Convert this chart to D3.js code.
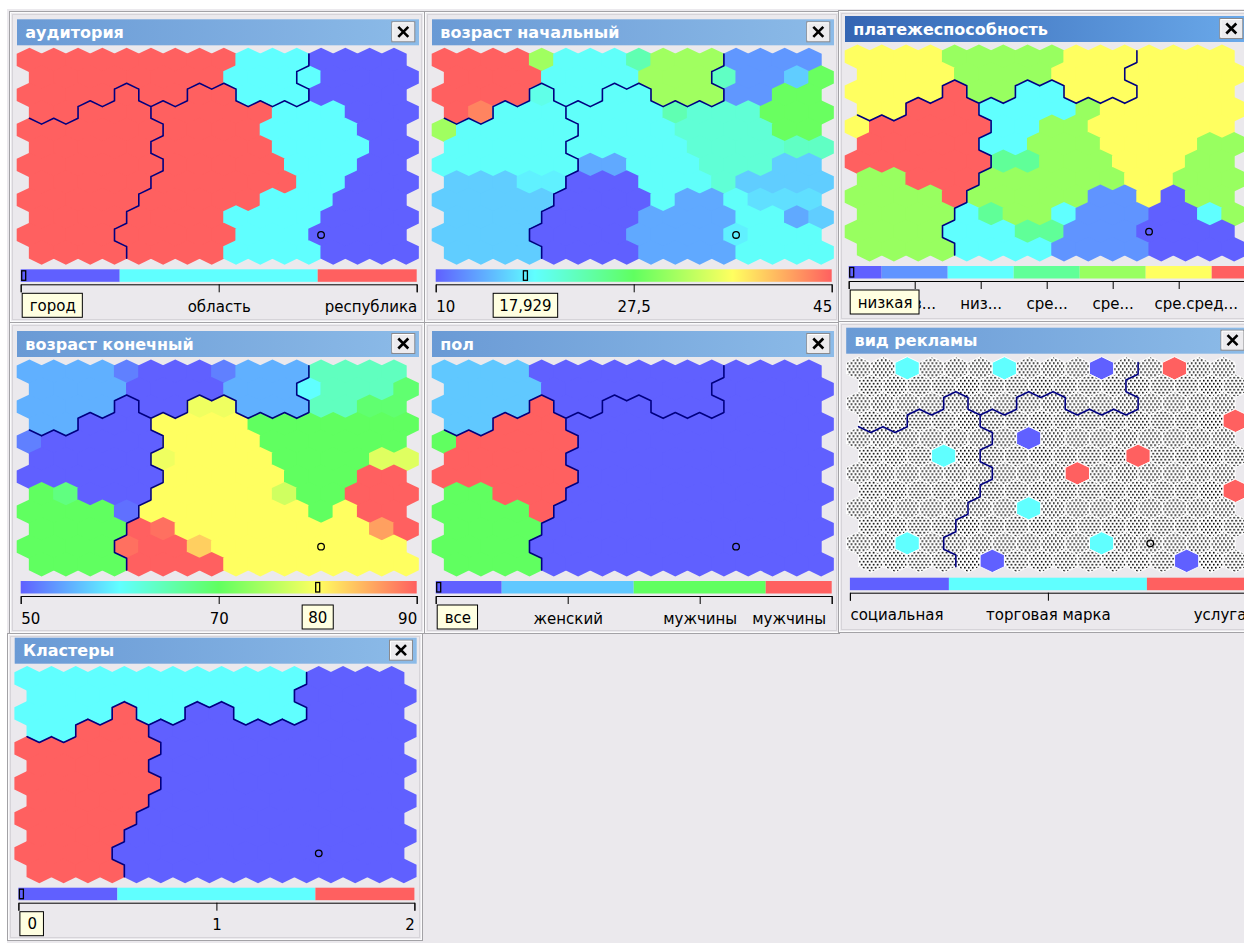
<!DOCTYPE html>
<html>
<head>
<meta charset="utf-8">
<script src="https://cdn.jsdelivr.net/npm/d3@7"></script>
<style>
body { margin: 0; background: #fff; }
svg { display: block; font-family: "DejaVu Sans", Verdana, sans-serif; }
</style>
</head>
<body>
<svg id="chart" width="1244" height="943"></svg>
<script>
// SOM grid 16 x 12, odd rows shifted right
var ROWS = 12, COLS = 16;
var markCell = {r: 10, c: 12};

// cluster id per cell (0,1,2)
var clusters = [
    "1111111111110000",
    "1111111111100000",
    "1111211001110000",
    "1122200000000000",
    "2222220000000000",
    "2222200000000000",
    "2222220000000000",
    "2222200000000000",
    "2222200000000000",
    "2222000000000000",
    "2222000000000000",
    "2222000000000000"
];
var clusterNames = ["0", "1", "2"];

var auditoria = [
    "2222222221110000",
    "2222222211110000",
    "2222222221110000",
    "2222222222111000",
    "2222222222111100",
    "2222222222111100",
    "2222222222211100",
    "2222222222211000",
    "2222222222111000",
    "2222222211110000",
    "2222222221110000",
    "2222222211110000"
];
var auditoriaNames = ["город", "область", "республика"];

var platezh = [
    "5555444445555555",
    "5555444455555555",
    "5555644225555555",
    "5566622224555555",
    "5666662244555555",
    "6666622444555544",
    "6666663344455544",
    "4466644444455444",
    "4444644444115044",
    "4444234421110024",
    "4444222331110000",
    "4444222211110000"
];
var platezhNames = ["низкая", "низ...", "низ...", "сре...", "сре...", "сре.сред...", "высокая"];

var pol = [
    "1111000000000000",
    "1111000000000000",
    "1111300000000000",
    "1133300000000000",
    "2333330000000000",
    "3333300000000000",
    "3333330000000000",
    "2233300000000000",
    "2222300000000000",
    "2222000000000000",
    "2222000000000000",
    "2222000000000000"
];
var polNames = ["все", "женский", "мужчины", "мужчины"];

// "." = no value
var reklama = [
    "..1...1...0..2..",
    "................",
    "................",
    "...............2",
    ".......0........",
    "...1.......2....",
    ".........2......",
    "...............2",
    ".......1........",
    "................",
    "..1.......1.....",
    ".....0.......0.."
];
var reklamaNames = ["социальная", "торговая марка", "услуга"];

var vozrastNach = [
    [45, 45, 45, 45, 31, 19, 19, 19, 23, 31, 31, 31, 13, 13, 13, 13],
    [45, 45, 45, 45, 19, 19, 19, 19, 31, 31, 31, 22, 13, 13, 16, 28],
    [45, 45, 45, 45, 20, 19, 19, 19, 19, 31, 31, 31, 13, 13, 28, 28],
    [45, 43, 19, 19, 19, 19, 19, 19, 19, 23, 21, 21, 21, 28, 28, 28],
    [31, 19, 19, 19, 19, 19, 19, 19, 19, 19, 21, 21, 21, 21, 28, 28],
    [19, 19, 19, 19, 19, 19, 19, 19, 19, 19, 21, 21, 21, 21, 22, 22],
    [19, 19, 19, 19, 19, 19, 14, 14, 19, 19, 19, 21, 21, 21, 16, 16],
    [16, 16, 16, 18, 18, 10, 10, 10, 19, 19, 19, 21, 16, 16, 16, 16],
    [16, 16, 16, 16, 16, 10, 10, 10, 10, 19, 14, 14, 19, 17, 17, 17],
    [16, 16, 16, 16, 10, 10, 10, 10, 14, 14, 14, 14, 19, 19, 14, 16],
    [16, 16, 16, 16, 10, 10, 10, 10, 14, 14, 14, 14, 17.929, 19, 19, 19],
    [16, 16, 16, 16, 10, 10, 10, 10, 14, 14, 14, 14, 19, 19, 19, 19]
];
var vozrastNachTicks = [10, 27.5, 45];

var vozrastKon = [
    [55, 55, 55, 55, 52, 50, 50, 50, 52, 55, 55, 55, 64, 64, 64, 64],
    [55, 55, 55, 55, 50, 50, 50, 50, 55, 55, 55, 60, 64, 64, 64, 69],
    [55, 55, 55, 55, 50, 50, 50, 79, 79, 55, 55, 55, 64, 64, 69, 69],
    [55, 55, 50, 50, 50, 80, 80, 80, 80, 70, 70, 70, 70, 70, 70, 70],
    [52, 50, 50, 50, 50, 50, 80, 80, 80, 80, 70, 70, 70, 70, 70, 70],
    [50, 50, 50, 50, 50, 79, 80, 80, 80, 80, 70, 70, 70, 70, 78, 78],
    [50, 50, 50, 50, 50, 50, 80, 80, 80, 80, 80, 70, 70, 70, 90, 90],
    [70, 68, 50, 50, 50, 80, 80, 80, 80, 80, 77, 70, 70, 90, 90, 90],
    [70, 70, 70, 70, 51, 80, 80, 80, 80, 80, 80, 80, 70, 80, 90, 90],
    [70, 70, 70, 70, 90, 89, 80, 80, 80, 80, 80, 80, 80, 80, 86, 90],
    [70, 70, 70, 70, 89, 90, 90, 83, 80, 80, 80, 80, 80, 80, 80, 80],
    [70, 70, 70, 70, 90, 90, 90, 90, 80, 80, 80, 80, 80, 80, 80, 80]
];
var vozrastKonTicks = [50, 70, 90];

var colors3 = ["#6060ff", "#60ffff", "#ff6060"];
var colorsPol = ["#6060ff", "#60c8ff", "#60ff60", "#ff6060"];
var colorsPlatezh = ["#6060ff", "#6094ff", "#60ffff", "#60ff98", "#98ff60", "#ffff60", "#ff6060"];
var rampStops = ["#6060ff", "#60ffff", "#60ff60", "#ffff60", "#ff6060"];

var BG = "#ebe9ed";
var HEX_W = 24.3, HEX_H = 23.33, ROW_STEP = 17.5, BAR_W = 396, BAR_X = 3.4;

var panels = [
    {title: "аудитория", x: 17.3, y: 48.3, frame: [9, 11, 311], cells: auditoria, names: auditoriaNames, colors: colors3},
    {title: "возраст начальный", x: 432.3, y: 48.3, frame: [424, 11, 311], cells: vozrastNach, domain: [10, 45], ticks: vozrastNachTicks},
    {title: "платежеспособность", x: 845.3, y: 45, frame: [838, 10, 311], active: true, cells: platezh, names: platezhNames, colors: colorsPlatezh,
        hideLast: true, labelShift: {5: 17}},
    {title: "возраст конечный", x: 17.3, y: 360, frame: [9, 322, 311], cells: vozrastKon, domain: [50, 90], ticks: vozrastKonTicks},
    {title: "пол", x: 432.3, y: 360, frame: [424, 322, 311], cells: pol, names: polNames, colors: colorsPol, labelShift: {3: -6}},
    {title: "вид рекламы", x: 846.5, y: 356.7, frame: [838, 321, 311], cells: reklama, names: reklamaNames, colors: colors3, dotted: true},
    {title: "Кластеры", x: 15, y: 666.7, frame: [7, 633, 307], cells: clusters, names: clusterNames, colors: colors3}
];

var fmt = d3.formatLocale({decimal: ",", thousands: " ", grouping: [3], currency: ["", ""]}).format("~g");

var svg = d3.select("#chart");
var defs = svg.append("defs");

function gradient(id, stops) {
    var lg = defs.append("linearGradient").attr("id", id).attr("x1", 0).attr("x2", 1).attr("y1", 0).attr("y2", 0);
    stops.forEach(function(s, i) {
        lg.append("stop").attr("offset", i / (stops.length - 1)).attr("stop-color", s);
    });
}
gradient("titleIdle", ["#6a9ad5", "#8cbbe8"]);
gradient("titleActive", ["#3465b3", "#6aa9ea"]);
gradient("ramp", rampStops);

var dots = defs.append("pattern").attr("id", "dots").attr("patternUnits", "userSpaceOnUse")
    .attr("width", 4).attr("height", 6);
dots.append("rect").attr("width", 4).attr("height", 6).attr("fill", "#fff");
dots.append("rect").attr("x", 0).attr("y", 0).attr("width", 1.6).attr("height", 1.6).attr("fill", "#000");
dots.append("rect").attr("x", 2).attr("y", 3).attr("width", 1.6).attr("height", 1.6).attr("fill", "#000");

svg.append("rect").attr("x", 7).attr("y", 9).attr("width", 1244).attr("height", 943).attr("fill", BG);

var xCol = d3.scaleLinear().domain([0, COLS]).range([0, COLS * HEX_W]);
var yRow = d3.scaleLinear().domain([0, ROWS - 1]).range([HEX_H / 2, HEX_H / 2 + (ROWS - 1) * ROW_STEP]);
function cx(r, c) { return xCol(c + 0.5 + (r % 2) * 0.5); }
function cy(r) { return yRow(r); }

var hw = HEX_W / 2, hh = HEX_H / 2, hq = HEX_H / 4;
function hexd(g) {   // g = grow in px, avoids seams between neighbours
    var a = hw + g, b = hh + g, q = hq + g / 2;
    return "M0," + (-b) + "L" + a + "," + (-q) + "L" + a + "," + q + "L0," + b +
        "L" + (-a) + "," + q + "L" + (-a) + "," + (-q) + "Z";
}

function cellValue(p, r, c) {
    var row = p.cells[r];
    if (typeof row === "string") {
        var ch = row.charAt(c);
        return ch === "." ? null : +ch;
    }
    return row[c];
}

// cluster borders
function clusterOf(r, c) { return +clusters[r].charAt(c); }
var borderPath = d3.path();
function seg(x1, y1, x2, y2) { borderPath.moveTo(x1, y1); borderPath.lineTo(x2, y2); }
for (var r = 0; r < ROWS; r++) {
    for (var c = 0; c < COLS; c++) {
        var k = clusterOf(r, c), x = cx(r, c), y = cy(r);
        if (c + 1 < COLS && clusterOf(r, c + 1) !== k) seg(x + hw, y - hq, x + hw, y + hq);
        if (r + 1 < ROWS) {
            var ll = r % 2 ? c : c - 1, lr = r % 2 ? c + 1 : c;
            if (ll >= 0 && clusterOf(r + 1, ll) !== k) seg(x, y + hh, x - hw, y + hq);
            if (lr < COLS && clusterOf(r + 1, lr) !== k) seg(x + hw, y + hq, x, y + hh);
        }
    }
}

function drawPanel(p) {
    var f = p.frame;
    var g = svg.append("g");
    g.append("rect").attr("x", f[0] + 0.5).attr("y", f[1] + 0.5).attr("width", 415).attr("height", f[2])
        .attr("fill", BG).attr("stroke", "#a3a2a6");
    g.append("rect").attr("x", f[0] + 1.5).attr("y", f[1] + 1.5).attr("width", 413).attr("height", f[2] - 2)
        .attr("fill", "none").attr("stroke", "#fbfbfc");
    g.append("rect").attr("x", f[0] + 3.5).attr("y", f[1] + 3.5).attr("width", 409).attr("height", f[2] - 6)
        .attr("fill", "none").attr("stroke", "#d6d4d9");

    var m = g.append("g").attr("transform", "translate(" + p.x + "," + p.y + ")");

    // title bar
    m.append("rect").attr("x", -0.3).attr("y", -29).attr("width", 402).attr("height", 26)
        .attr("fill", "url(#" + (p.active ? "titleActive" : "titleIdle") + ")");
    m.append("text").attr("x", 8).attr("y", -10.5).attr("fill", "#fff")
        .attr("font-weight", "bold").attr("font-size", 16).text(p.title);
    var btn = m.append("g").attr("transform", "translate(374.5,-26.5)");
    btn.append("rect").attr("width", 23).attr("height", 20).attr("fill", "#ecebee").attr("stroke", "#8a8a8e");
    btn.append("path").attr("d", "M1,18.5V1H22").attr("fill", "none").attr("stroke", "#fff");
    btn.append("path").attr("d", "M6.5,5L16.5,15M16.5,5L6.5,15").attr("stroke", "#000").attr("stroke-width", 2.6);

    var isNum = !!p.domain;
    var color;
    if (isNum) {
        var d0 = p.domain[0], d1 = p.domain[1];
        color = d3.scaleLinear().domain(rampStops.map(function(s, i) { return d0 + (d1 - d0) * i / (rampStops.length - 1); }))
            .range(rampStops).interpolate(d3.interpolateRgb);
    } else {
        color = d3.scaleOrdinal().domain(d3.range(p.names.length)).range(p.colors);
    }

    var cells = [];
    for (var r = 0; r < ROWS; r++)
        for (var c = 0; c < COLS; c++) cells.push({r: r, c: c, v: cellValue(p, r, c)});

    var hexes = m.append("g").selectAll("path").data(cells).enter().append("path")
        .attr("transform", function(d) { return "translate(" + cx(d.r, d.c) + "," + cy(d.r) + ")"; })
        .attr("fill", function(d) { return d.v == null ? "url(#dots)" : color(d.v); });
    if (p.dotted) {
        hexes.attr("d", hexd(0)).attr("stroke", "#fff").attr("stroke-width", 0.9);
    } else {
        hexes.attr("d", hexd(0.6));
    }

    m.append("path").attr("d", borderPath.toString()).attr("fill", "none")
        .attr("stroke", "#000080").attr("stroke-width", 1.6).attr("stroke-linecap", "round");

    m.append("circle").attr("cx", cx(markCell.r, markCell.c)).attr("cy", cy(markCell.r)).attr("r", 3.3)
        .attr("fill", "none").attr("stroke", "#000").attr("stroke-width", 1.3);

    // colour bar
    var n = isNum ? 0 : p.names.length;
    var bx = d3.scaleLinear().domain(isNum ? p.domain : [0, n - 1]).range([BAR_X, BAR_X + BAR_W]);
    var barY = 221, barH = 12.5;
    if (isNum) {
        m.append("rect").attr("x", BAR_X).attr("y", barY).attr("width", BAR_W).attr("height", barH).attr("fill", "url(#ramp)");
    } else {
        m.append("g").selectAll("rect").data(d3.range(n)).enter().append("rect")
            .attr("x", function(i) { return bx(Math.max(0, i - 0.5)); })
            .attr("y", barY)
            .attr("width", function(i) { return bx(Math.min(n - 1, i + 0.5)) - bx(Math.max(0, i - 0.5)); })
            .attr("height", barH)
            .attr("fill", function(i) { return color(i); });
    }

    var mv = cellValue(p, markCell.r, markCell.c);
    var tickVals = isNum ? p.ticks : d3.range(n);
    var shift = p.labelShift || {};
    var axis = d3.axisBottom(bx).tickValues(tickVals).tickSize(8)
        .tickFormat(function(v) { return isNum ? fmt(v) : p.names[v]; });
    var ag = m.append("g").attr("transform", "translate(0,236)").call(axis);
    ag.select(".domain").attr("stroke", "#000");
    ag.selectAll(".tick line").attr("stroke", "#000");
    ag.selectAll(".tick text")
        .attr("x", function(v, i) { return shift[i] || 0; })
        .attr("y", 22.5).attr("dy", "0.35em")
        .attr("fill", "#000").attr("font-size", 15).attr("font-family", "DejaVu Sans, Verdana, sans-serif")
        .attr("text-anchor", function(v, i) { return i === 0 ? "start" : (i === tickVals.length - 1 ? "end" : "middle"); })
        .attr("display", function(v, i) {
            if (p.hideLast && i === tickVals.length - 1) return "none";
            if (!isNum && mv === v) return "none";   // shown in the box instead
            return null;
        });

    // selected value marker and label box
    if (mv == null) return;
    var mxp = bx(mv);
    m.append("rect").attr("x", Math.max(BAR_X + 1, mxp - 2)).attr("y", barY + 1.5).attr("width", 4).attr("height", barH - 3)
        .attr("fill", "none").attr("stroke", "#000").attr("stroke-width", 1.3);
    var label = isNum ? fmt(mv) : p.names[mv];
    var box = m.append("g");
    var br = box.append("rect").attr("y", 245).attr("height", 24).attr("fill", "#ffffe1").attr("stroke", "#000");
    var bt = box.append("text").attr("y", 257.5).attr("dy", "0.35em").attr("font-size", 15).attr("fill", "#000").text(label);
    var tw = bt.node().getComputedTextLength();
    if (mxp - (tw + 12) / 2 < BAR_X + 1) {
        br.attr("x", BAR_X + 1.5).attr("width", tw + 14);
        bt.attr("x", BAR_X + 9);
    } else {
        br.attr("x", mxp - (tw + 12) / 2).attr("width", tw + 12);
        bt.attr("x", mxp).attr("text-anchor", "middle");
    }
}

panels.forEach(drawPanel);
</script>
</body>
</html>
